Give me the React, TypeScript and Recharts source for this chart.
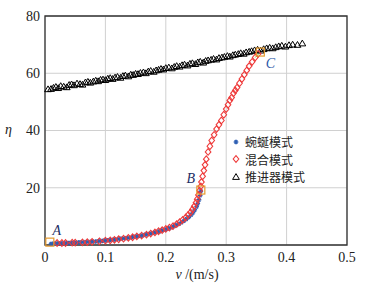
import React from 'react';
import {
  ScatterChart,
  Scatter,
  XAxis,
  YAxis,
  CartesianGrid,
  ReferenceArea,
  ReferenceLine
} from 'recharts';

// 蜿蜒模式 (blue stars)
const serpV = [0.010, 0.014, 0.018, 0.022, 0.026, 0.030, 0.034, 0.038, 0.042, 0.046, 0.050, 0.054, 0.058, 0.062, 0.066, 0.070, 0.074, 0.078, 0.082, 0.086, 0.090, 0.094, 0.098, 0.102, 0.106, 0.110, 0.114, 0.118, 0.122, 0.126, 0.130, 0.134, 0.138, 0.142, 0.146, 0.150, 0.154, 0.158, 0.162, 0.166, 0.170, 0.174, 0.178, 0.182, 0.186, 0.190, 0.194, 0.198, 0.202, 0.206, 0.210, 0.214, 0.218, 0.222, 0.226, 0.230, 0.234, 0.238, 0.242, 0.245, 0.248, 0.251, 0.253, 0.255, 0.257, 0.258];
const serpEta = [0.4, 0.5, 0.5, 0.6, 0.6, 0.6, 0.7, 0.7, 0.7, 0.8, 0.8, 0.9, 0.9, 1.0, 1.0, 1.1, 1.1, 1.2, 1.2, 1.3, 1.4, 1.4, 1.5, 1.6, 1.7, 1.8, 1.9, 2.0, 2.1, 2.2, 2.3, 2.4, 2.5, 2.6, 2.8, 2.9, 3.1, 3.2, 3.4, 3.6, 3.8, 4.0, 4.2, 4.4, 4.6, 4.8, 5.1, 5.3, 5.6, 5.9, 6.2, 6.6, 7.0, 7.4, 7.9, 8.4, 9.0, 9.7, 10.5, 11.3, 12.3, 13.4, 14.5, 15.8, 17.3, 18.8];

// 混合模式 (red diamonds)
const mixV = [0.020, 0.028, 0.034, 0.045, 0.050, 0.062, 0.070, 0.078, 0.090, 0.100, 0.108, 0.115, 0.122, 0.130, 0.138, 0.145, 0.152, 0.160, 0.168, 0.175, 0.182, 0.188, 0.194, 0.200, 0.206, 0.212, 0.218, 0.223, 0.228, 0.233, 0.237, 0.241, 0.244, 0.247, 0.250, 0.252, 0.254, 0.256, 0.258, 0.259, 0.261, 0.263, 0.265, 0.267, 0.270, 0.273, 0.276, 0.280, 0.284, 0.288, 0.292, 0.296, 0.300, 0.303, 0.306, 0.309, 0.312, 0.315, 0.318, 0.322, 0.326, 0.330, 0.334, 0.338, 0.343, 0.348, 0.353];
const mixEta = [0.7, 0.7, 0.7, 0.8, 0.8, 0.9, 1.0, 1.1, 1.3, 1.5, 1.6, 1.8, 2.0, 2.2, 2.5, 2.7, 3.0, 3.3, 3.6, 4.0, 4.4, 4.8, 5.2, 5.6, 6.1, 6.6, 7.3, 8.0, 8.8, 9.6, 10.5, 11.4, 12.4, 13.5, 14.8, 16.0, 17.5, 19.0, 20.5, 22.0, 24.0, 26.0, 28.0, 30.0, 32.5, 34.5, 36.5, 38.5, 40.5, 42.0, 43.5, 45.5, 47.5, 49.0, 50.5, 51.5, 53.0, 54.0, 55.0, 56.5, 58.0, 59.5, 61.0, 62.5, 64.0, 65.5, 66.8];

// 推进器模式 (black triangles)
const propV = [0.005, 0.010, 0.014, 0.018, 0.022, 0.026, 0.031, 0.036, 0.040, 0.044, 0.048, 0.053, 0.058, 0.062, 0.067, 0.071, 0.075, 0.080, 0.084, 0.088, 0.092, 0.096, 0.100, 0.104, 0.108, 0.112, 0.116, 0.120, 0.125, 0.129, 0.133, 0.138, 0.142, 0.146, 0.150, 0.154, 0.158, 0.163, 0.167, 0.171, 0.175, 0.180, 0.184, 0.188, 0.192, 0.196, 0.200, 0.205, 0.210, 0.214, 0.218, 0.223, 0.227, 0.231, 0.236, 0.240, 0.244, 0.249, 0.253, 0.257, 0.262, 0.266, 0.270, 0.275, 0.279, 0.284, 0.288, 0.293, 0.297, 0.302, 0.306, 0.311, 0.315, 0.320, 0.324, 0.329, 0.333, 0.338, 0.342, 0.347, 0.352, 0.357, 0.362, 0.367, 0.372, 0.377, 0.382, 0.387, 0.392, 0.398, 0.404, 0.410, 0.418, 0.426];
const propEta = [54.4, 54.5, 54.9, 55.2, 54.8, 55.5, 55.3, 55.1, 55.9, 56.1, 55.8, 56.4, 56.2, 56.0, 56.8, 57.0, 56.7, 57.1, 57.4, 57.2, 57.7, 57.8, 57.6, 58.1, 58.3, 58.0, 58.5, 58.7, 58.4, 59.0, 59.2, 58.9, 59.5, 59.4, 59.8, 59.7, 60.1, 60.3, 60.0, 60.6, 60.8, 60.5, 61.0, 61.2, 61.5, 61.3, 61.8, 62.0, 61.7, 62.2, 62.5, 62.3, 62.8, 63.0, 62.7, 63.3, 63.5, 63.2, 63.8, 64.0, 63.7, 64.3, 64.5, 64.7, 65.0, 64.8, 65.3, 65.5, 65.7, 66.0, 65.8, 66.3, 66.5, 66.7, 67.0, 66.8, 67.3, 67.5, 67.7, 68.0, 68.2, 67.9, 68.4, 68.7, 68.9, 68.7, 69.1, 69.4, 69.6, 69.3, 69.8, 70.0, 69.9, 70.4];

// marked operating points
const keyNames = ['A', 'B', 'C'];
const keyV = [0.008, 0.258, 0.3565];
const keyEta = [1.0, 19.2, 67.4];

const xTicks = [0, 0.1, 0.2, 0.3, 0.4, 0.5];
const yTicks = [20, 40, 60, 80];

const serpData = serpV.map((v, i) => ({ v, eta: serpEta[i] }));
const mixData = mixV.map((v, i) => ({ v, eta: mixEta[i] }));
const propData = propV.map((v, i) => ({ v, eta: propEta[i] }));
const keyData = keyNames.map((name, i) => ({ v: keyV[i], eta: keyEta[i], name }));

const BLUE = '#2f5fb3';
const RED = '#ee3b3b';
const ORANGE = '#e69a2e';
const serif = '"Liberation Serif", "DejaVu Serif", serif';
const cjk = '"Noto Sans CJK SC", sans-serif';

const Star = ({ cx, cy }: any) => (
  <g stroke={BLUE} strokeWidth={1.5}>
    <line x1={cx - 2.3} y1={cy} x2={cx + 2.3} y2={cy} />
    <line x1={cx - 1.2} y1={cy - 2} x2={cx + 1.2} y2={cy + 2} />
    <line x1={cx - 1.2} y1={cy + 2} x2={cx + 1.2} y2={cy - 2} />
  </g>
);

const Diamond = ({ cx, cy }: any) => (
  <path
    d={`M${cx},${cy - 3.3}L${cx + 2.8},${cy}L${cx},${cy + 3.3}L${cx - 2.8},${cy}Z`}
    fill="none"
    stroke={RED}
    strokeWidth={1.1}
  />
);

const Triangle = ({ cx, cy }: any) => (
  <path
    d={`M${cx},${cy - 3.4}L${cx + 3.4},${cy + 2.4}L${cx - 3.4},${cy + 2.4}Z`}
    fill="none"
    stroke="#000"
    strokeWidth={1}
  />
);

const labelOffset: Record<string, [number, number]> = {
  A: [7, -12],
  B: [-10, -12],
  C: [10, 11]
};
const labelColor: Record<string, string> = { A: '#1e2f66', B: '#1e2f66', C: '#2a58a8' };

const KeyMark = ({ cx, cy, payload }: any) => {
  const [dx, dy] = labelOffset[payload.name];
  return (
    <g>
      <rect x={cx - 4} y={cy - 4} width={8} height={8} fill="none" stroke={ORANGE} strokeWidth={1.2} />
      <text
        x={cx + dx}
        y={cy + dy}
        textAnchor="middle"
        dominantBaseline="central"
        style={{ fontFamily: serif, fontStyle: 'italic', fontSize: 14 }}
        fill={labelColor[payload.name]}
      >
        {payload.name}
      </text>
    </g>
  );
};

const legendItems = [
  { name: '蜿蜒模式', Mark: Star },
  { name: '混合模式', Mark: Diamond },
  { name: '推进器模式', Mark: Triangle }
];

const tickStyle = { fontSize: 14, fill: '#222', fontFamily: serif };

export default function App() {
  return (
    <div style={{ position: 'absolute', left: 0, top: 0, width: 377, height: 285, background: '#fff', fontFamily: serif }}>
      <ScatterChart width={377} height={285} margin={{ top: 16, right: 30, left: 0, bottom: 0 }} style={{ fontFamily: serif }}>
        <CartesianGrid stroke="#d0d0d0" strokeWidth={1} />
        <XAxis
          type="number"
          dataKey="v"
          domain={[0, 0.5]}
          ticks={xTicks}
          height={40}
          tickSize={0}
          tickMargin={7}
          axisLine={false}
          tick={tickStyle}
        />
        <YAxis
          type="number"
          dataKey="eta"
          domain={[0, 80]}
          ticks={yTicks}
          width={45}
          tickSize={0}
          tickMargin={5}
          axisLine={false}
          tick={tickStyle}
        />
        <ReferenceArea x1={0} x2={0.5} y1={0} y2={80} fill="none" stroke="#333" strokeWidth={1.3} />
        <Scatter data={propData} shape={<Triangle />} isAnimationActive={false} legendType="none" />
        <Scatter data={serpData} shape={<Star />} isAnimationActive={false} legendType="none" />
        <Scatter data={mixData} shape={<Diamond />} isAnimationActive={false} legendType="none" />
        <ReferenceLine
          segment={[
            { x: keyV[2], y: keyEta[2] },
            { x: mixV[mixV.length - 2], y: mixEta[mixEta.length - 2] }
          ]}
          stroke="#7cc44a"
          strokeWidth={1}
        />
        <Scatter data={keyData} shape={<KeyMark />} isAnimationActive={false} legendType="none" />
      </ScatterChart>
      <div style={{ position: 'absolute', left: 5, top: 122, fontSize: 14, fontStyle: 'italic', color: '#222' }}>η</div>
      <div style={{ position: 'absolute', left: 0, width: 394, top: 267, textAlign: 'center', fontSize: 14, color: '#222' }}>
        <span style={{ fontStyle: 'italic' }}>v</span> /(m/s)
      </div>
      <div style={{ position: 'absolute', left: 230, top: 133, fontFamily: cjk, fontSize: 12, color: '#222' }}>
        {legendItems.map(({ name, Mark }) => (
          <div key={name} style={{ display: 'flex', alignItems: 'center', height: 17.5 }}>
            <svg width={12} height={12} style={{ marginRight: 3 }}>
              <Mark cx={6} cy={6} />
            </svg>
            <span style={{ lineHeight: '17.5px' }}>{name}</span>
          </div>
        ))}
      </div>
    </div>
  );
}
